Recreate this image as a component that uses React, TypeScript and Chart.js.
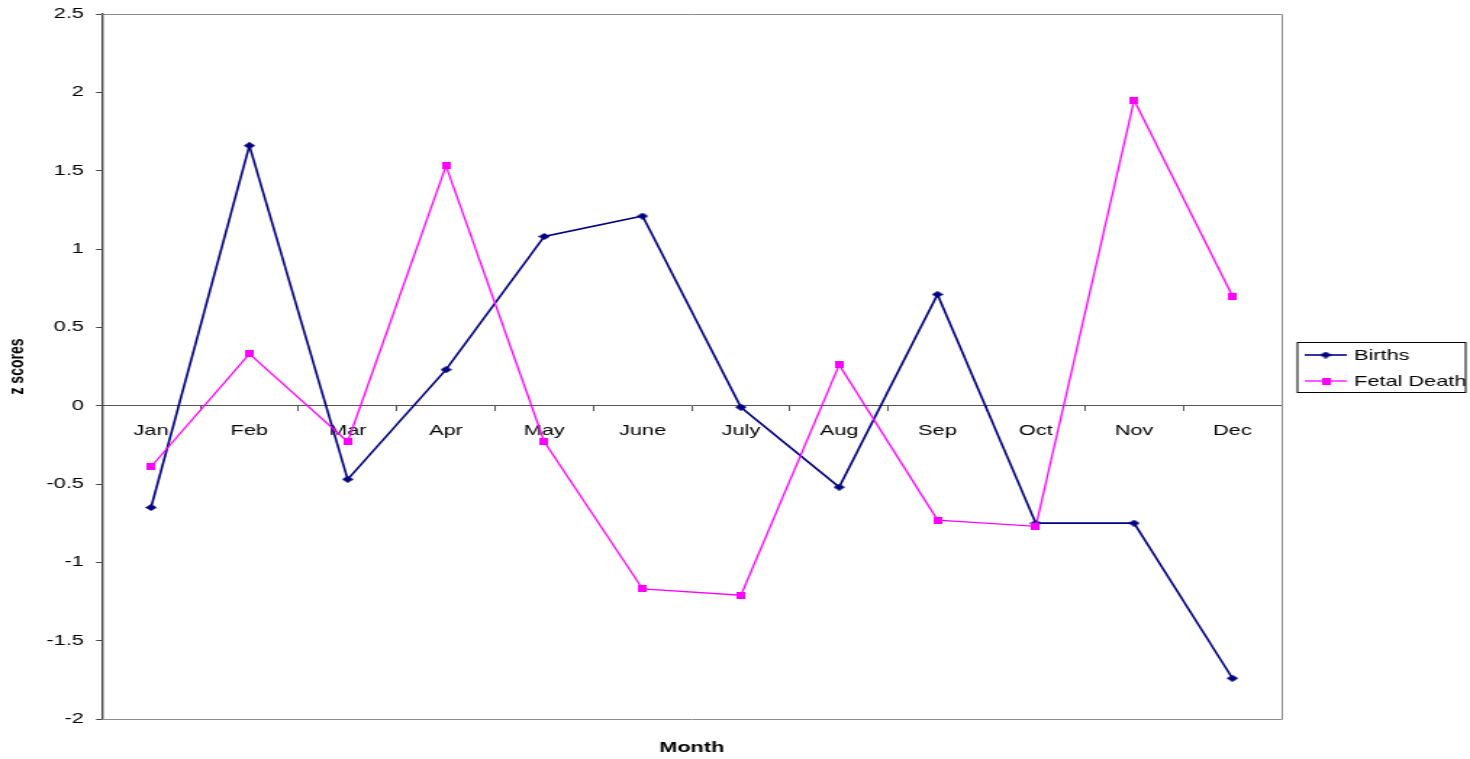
import React, { useEffect, useRef } from "react";
import { Chart, registerables } from "chart.js";

Chart.register(...registerables);

// ---- data ----
const months = ["Jan", "Feb", "Mar", "Apr", "May", "June", "July", "Aug", "Sep", "Oct", "Nov", "Dec"];
const births = [-0.65, 1.66, -0.47, 0.23, 1.08, 1.21, -0.01, -0.52, 0.71, -0.75, -0.75, -1.74];
const fetalDeath = [-0.39, 0.33, -0.23, 1.53, -0.23, -1.17, -1.21, 0.26, -0.73, -0.77, 1.95, 0.7];
const yMin = -2;
const yMax = 2.5;
const yStep = 0.5;
const seriesNames = ["Births", "Fetal Death"];
const xTitle = "Month";
const yTitle = "z scores";

// ---- style (the reference is horizontally stretched ~1.45x) ----
const DISPLAY_W = 1470;
const DISPLAY_H = 759;
const STRETCH = 1.45;
const INTERNAL_W = Math.round(DISPLAY_W / STRETCH);
const FONT = "'Liberation Sans', Arial, sans-serif";
const NAVY = "#000080";
const MAGENTA = "#FF00FF";

function makeMarker(kind: "diamond" | "square"): HTMLCanvasElement {
  const c = document.createElement("canvas");
  const ctx = c.getContext("2d")!;
  if (kind === "diamond") {
    c.width = 8;
    c.height = 7;
    ctx.fillStyle = NAVY;
    ctx.beginPath();
    ctx.moveTo(4, 0);
    ctx.lineTo(8, 3.5);
    ctx.lineTo(4, 7);
    ctx.lineTo(0, 3.5);
    ctx.closePath();
    ctx.fill();
  } else {
    c.width = 6;
    c.height = 7;
    ctx.fillStyle = MAGENTA;
    ctx.fillRect(0, 0, 6, 7);
  }
  return c;
}

export default function App() {
  const canvasRef = useRef<HTMLCanvasElement | null>(null);

  useEffect(() => {
    const canvas = canvasRef.current;
    if (!canvas) return;
    const diamond = makeMarker("diamond");
    const square = makeMarker("square");

    const decorPlugin = {
      id: "decor",
      beforeDatasetsDraw(chart: any) {
        const { ctx, chartArea } = chart;
        ctx.save();
        ctx.strokeStyle = "#8c8c8c";
        ctx.lineWidth = 1;
        ctx.beginPath();
        ctx.moveTo(chartArea.left, Math.round(chartArea.top) + 0.5);
        ctx.lineTo(Math.round(chartArea.right) + 0.5, Math.round(chartArea.top) + 0.5);
        ctx.lineTo(Math.round(chartArea.right) + 0.5, Math.round(chartArea.bottom) + 0.5);
        ctx.lineTo(chartArea.left, Math.round(chartArea.bottom) + 0.5);
        ctx.stroke();
        ctx.restore();
      },
      afterDraw(chart: any) {
        const { ctx, chartArea } = chart;
        ctx.save();
        // x-axis title
        ctx.fillStyle = "#000";
        ctx.font = `bold 15px ${FONT}`;
        ctx.textAlign = "center";
        ctx.textBaseline = "middle";
        ctx.fillText(xTitle, (chartArea.left + chartArea.right) / 2, 748);

        // legend
        const bx = 895;
        const by = 342.5;
        const bw = 116;
        const bh = 50;
        ctx.strokeStyle = "#000";
        ctx.lineWidth = 1;
        ctx.strokeRect(bx, by, bw, bh);
        const rows = [
          { y: 355, color: NAVY, lw: 1.6, marker: diamond, name: seriesNames[0] },
          { y: 381, color: MAGENTA, lw: 1.3, marker: square, name: seriesNames[1] },
        ];
        for (const r of rows) {
          ctx.strokeStyle = r.color;
          ctx.lineWidth = r.lw;
          ctx.beginPath();
          ctx.moveTo(900, r.y);
          ctx.lineTo(929, r.y);
          ctx.stroke();
          ctx.drawImage(r.marker, 914.5 - r.marker.width / 2, r.y - r.marker.height / 2);
          ctx.fillStyle = "#000";
          ctx.font = `15px ${FONT}`;
          ctx.textAlign = "left";
          ctx.textBaseline = "middle";
          ctx.fillText(r.name, 934, r.y + 1);
        }
        ctx.restore();
      },
    };

    const chart = new Chart(canvas, {
      type: "line",
      data: {
        labels: months,
        datasets: [
          {
            label: seriesNames[0],
            data: births,
            borderColor: NAVY,
            backgroundColor: NAVY,
            borderWidth: 1.6,
            pointStyle: diamond as any,
            pointRadius: 4,
            tension: 0,
            fill: false,
            order: 1,
          },
          {
            label: seriesNames[1],
            data: fetalDeath,
            borderColor: MAGENTA,
            backgroundColor: MAGENTA,
            borderWidth: 1.3,
            pointStyle: square as any,
            pointRadius: 4,
            tension: 0,
            fill: false,
            order: 0,
          },
        ],
      },
      options: {
        responsive: false,
        animation: false,
        devicePixelRatio: 1,
        events: [],
        layout: { padding: { left: 0, right: INTERNAL_W - 884, top: 14, bottom: 40 } },
        plugins: {
          legend: { display: false },
          tooltip: { enabled: false },
        },
        scales: {
          x: {
            type: "category",
            position: { y: 0 } as any,
            offset: true,
            grid: {
              display: true,
              drawOnChartArea: false,
              drawTicks: true,
              tickLength: 5,
              offset: true,
              color: "#555",
            },
            border: { display: true, color: "#555", width: 1 },
            ticks: {
              color: "#000",
              font: { family: FONT, size: 15 },
              padding: 11,
              maxRotation: 0,
              autoSkip: false,
            },
          },
          y: {
            type: "linear",
            min: yMin,
            max: yMax,
            afterFit: (s: any) => {
              s.width = 70.3;
              s.paddingTop = 8;
              s.paddingBottom = 8;
            },
            grid: {
              display: true,
              drawOnChartArea: false,
              drawTicks: true,
              tickLength: 4,
              color: "#444",
            },
            border: { display: true, color: "#444", width: 1.4 },
            ticks: {
              stepSize: yStep,
              color: "#000",
              font: { family: FONT, size: 15 },
              padding: 8.4,
              callback: (v: any) => String(Math.round(Number(v) * 10) / 10),
            },
            title: {
              display: true,
              text: yTitle,
              color: "#000",
              font: { family: FONT, size: 14, weight: "bold" },
              padding: { top: 4, bottom: 4 },
            },
          },
        },
      },
      plugins: [decorPlugin],
    });

    return () => chart.destroy();
  }, []);

  return (
    <div style={{ position: "fixed", left: 0, top: 0, width: DISPLAY_W, height: DISPLAY_H, background: "#fff" }}>
      <canvas
        ref={canvasRef}
        width={INTERNAL_W}
        height={DISPLAY_H}
        style={{ width: `${DISPLAY_W}px`, height: `${DISPLAY_H}px`, display: "block" }}
      />
    </div>
  );
}
